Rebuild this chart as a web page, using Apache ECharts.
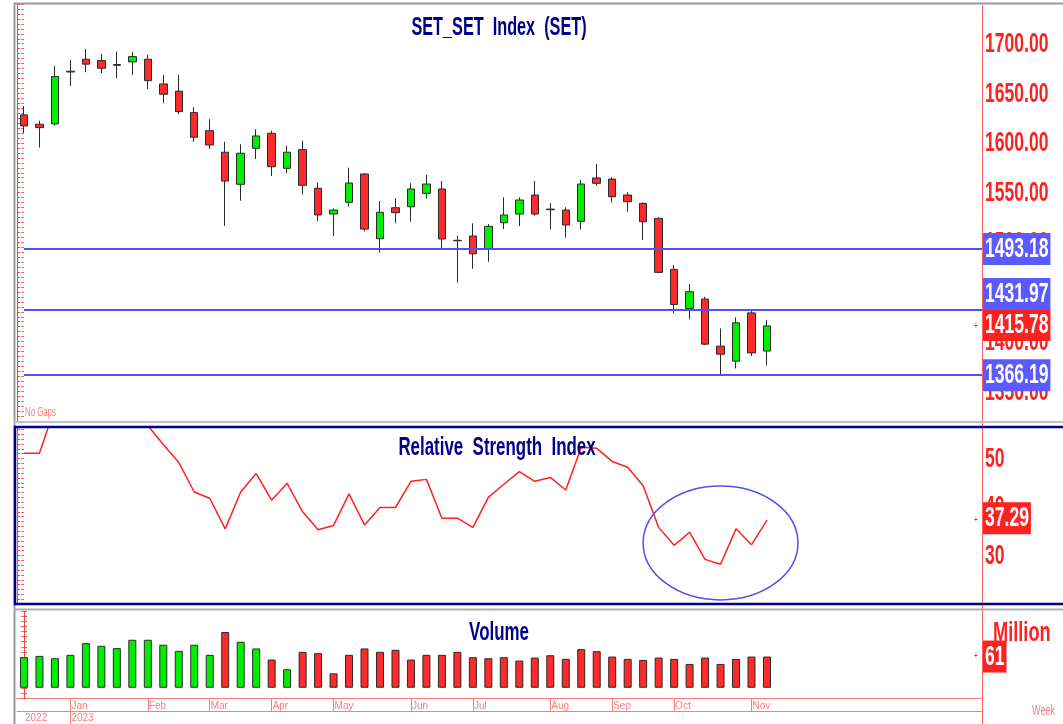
<!DOCTYPE html>
<html>
<head>
<meta charset="utf-8">
<script src="https://cdn.jsdelivr.net/npm/echarts@6.0.0/dist/echarts.min.js"></script>
<style>
  html, body { margin: 0; padding: 0; background: #fff; }
  #main { width: 1063px; height: 724px; }
</style>
</head>
<body>
<div id="main"></div>
<script>
// weekly bars, first bar = week of 12 Dec 2022
const opens  = [1628.3,1618.9,1619.2,1672.3,1684.4,1683.0,1678.2,1681.7,1684.4,1659.5,1652.2,1630.6,1612.4,1590.7,1558.4,1594.7,1609.8,1574.5,1593.3,1554.4,1528.5,1540.3,1568.8,1503.6,1534.8,1535.8,1549.3,1553.7,1502.0,1506.3,1493.2,1519.7,1528.5,1547.6,1532.8,1532.5,1521.1,1564.8,1563.7,1547.6,1539.2,1524.1,1472.7,1433.4,1442.8,1395.4,1380.3,1428.9,1390.4];
const closes = [1617.2,1615.5,1666.9,1671.5,1679.4,1675.3,1679.0,1687.0,1662.8,1649.1,1631.6,1605.8,1598.0,1561.7,1589.7,1607.1,1576.1,1590.7,1557.4,1527.5,1532.5,1559.7,1513.3,1530.2,1529.8,1553.7,1558.7,1503.3,1501.5,1488.4,1516.1,1527.5,1542.6,1528.5,1533.4,1517.4,1558.7,1559.4,1545.9,1540.9,1520.7,1469.7,1437.4,1450.2,1397.4,1387.3,1418.9,1388.6,1415.78];
const lows   = [1610.1,1595.3,1617.5,1657.5,1671.3,1670.3,1665.3,1668.6,1654.2,1640.1,1629.0,1601.3,1594.0,1516.7,1541.9,1583.9,1566.8,1569.5,1548.3,1521.7,1506.3,1535.8,1511.0,1489.5,1519.1,1520.7,1543.9,1492.9,1459.2,1473.3,1480.4,1513.3,1516.4,1526.7,1513.0,1504.6,1513.0,1557.0,1540.3,1530.8,1502.3,1469.0,1428.4,1422.3,1396.4,1366.2,1372.9,1385.6,1376.2];
const highs  = [1637.3,1622.5,1677.6,1683.7,1694.8,1689.8,1692.1,1691.5,1688.8,1668.6,1668.6,1636.0,1623.9,1601.3,1598.7,1613.8,1612.4,1597.3,1602.3,1560.0,1534.2,1575.1,1569.5,1541.6,1544.3,1559.4,1567.8,1561.7,1506.6,1519.1,1518.4,1545.3,1545.3,1561.7,1539.3,1535.2,1562.7,1578.9,1565.5,1550.3,1540.0,1525.0,1477.1,1457.9,1445.1,1413.2,1424.3,1432.0,1421.6];

const rsi = [51.1,51.1,60.5,63.5,66,64,64,66,56.8,52.9,49.2,43.1,41.8,35.5,43.1,46.9,41.4,44.9,39.0,35.3,36.2,42.7,36.3,39.9,39.9,45.3,45.7,37.7,37.7,35.8,42.0,44.7,47.3,45.3,46.1,43.5,52.3,52.1,49.4,48.2,44.4,35.8,32.1,34.8,29.2,28.2,35.5,32.2,37.29];

const volume = [59.7,62.3,57.7,64.3,87.2,82.0,77.4,93.8,93.8,84.0,72.2,84.0,64.3,108.9,89.9,76.8,55.1,36.1,70.2,67.6,28.2,64.3,76.8,70.2,74.1,55.1,64.3,64.3,70.2,59.7,57.7,59.7,53.1,59.0,63.6,56.4,75.4,71.5,61.0,56.4,54.4,59.0,56.4,46.6,59.0,46.6,56.4,61.0,61];
const volUp  = [1,1,1,1,1,1,1,1,1,1,1,1,1,0,1,1,0,1,0,0,0,0,0,0,0,0,0,0,0,0,0,0,0,0,0,0,0,0,0,0,0,0,0,0,0,0,0,0,0];

const levels = [1493.18, 1431.97, 1366.19];
const priceTicks = [1350, 1400, 1450, 1500, 1550, 1600, 1650, 1700];
const rsiTicks = [30, 40, 50];
const monthIdx = [3, 8, 12, 16, 20, 25, 29, 34, 38, 42, 47];
const monthLbl = ['Jan', 'Feb', 'Mar', 'Apr', 'May', 'Jun', 'Jul', 'Aug', 'Sep', 'Oct', 'Nov'];
const yearIdx = [0, 3];
const yearLbl = ['2022', '2023'];

const BASE = "'Liberation Sans', Arial, sans-serif";
const SX = 0.65;               // the original screenshot is squeezed sideways
const RED = '#ff2020';
const PINK = '#ff7a7a';
const NAVY = '#00008c';
const BLUEBOX = '#5a5aff';
const XMIN = -0.45, XMAX = 61.89;

const chart = echarts.init(document.getElementById('main'));

const candles = opens.map((o, i) => [i, o, closes[i], lows[i], highs[i]]);
const lastClose = closes[closes.length - 1];
const lastRsi = rsi[rsi.length - 1];
const lastVol = volume[volume.length - 1];

const hideX = gi => ({ type: 'value', gridIndex: gi, min: XMIN, max: XMAX, show: false });

function yPair(gi, min, max, interval) {
  return [
    {
      type: 'value', gridIndex: gi, position: 'right', min: min, max: max, interval: interval,
      axisLine: { show: false },
      axisTick: { show: true, inside: true, length: 3, lineStyle: { color: '#ff6060' } },
      axisLabel: { show: false },
      splitLine: { show: false }
    },
    {
      type: 'value', gridIndex: gi, position: 'left', min: min, max: max, interval: interval,
      axisLine: { show: true, lineStyle: { color: '#ff4040', width: 1 } },
      axisTick: { show: true, inside: true, length: 3, lineStyle: { color: '#ff4040' } },
      axisLabel: { show: false },
      splitLine: { show: false }
    }
  ];
}

const option = {
  backgroundColor: '#fff',
  animation: false,
  grid: [
    { left: 17, right: 81, top: 4, height: 417, outerBoundsMode: 'none' },
    { left: 17, right: 81, top: 427, height: 177, outerBoundsMode: 'none' },
    { left: 17, right: 81, top: 611, height: 87, outerBoundsMode: 'none' }
  ],
  xAxis: [
    hideX(0),
    hideX(1),
    {
      type: 'value', gridIndex: 2, position: 'bottom', min: XMIN, max: XMAX,
      axisLine: { show: true, onZero: false, lineStyle: { color: PINK } },
      axisTick: { show: true, customValues: monthIdx, length: 13, lineStyle: { color: PINK } },
      axisLabel: {
        show: true, customValues: monthIdx, align: 'left', margin: 3, padding: [0, 0, 0, 1],
        formatter: v => monthLbl[monthIdx.indexOf(Math.round(v))] || '',
        color: PINK, fontFamily: BASE, fontSize: 10
      },
      splitLine: { show: false }
    },
    {
      type: 'value', gridIndex: 2, position: 'bottom', min: XMIN, max: XMAX, offset: 13,
      axisLine: { show: true, onZero: false, lineStyle: { color: PINK } },
      axisTick: { show: true, customValues: [yearIdx[1]], length: 14, lineStyle: { color: PINK } },
      axisLabel: {
        show: true, customValues: yearIdx, align: 'left', margin: 2, padding: [0, 0, 0, 1],
        formatter: v => yearLbl[yearIdx.indexOf(Math.round(v))] || '',
        color: PINK, fontFamily: BASE, fontSize: 10
      },
      splitLine: { show: false }
    }
  ],
  yAxis: [
    ...yPair(0, 1320, 1740, 5),
    ...yPair(1, 20, 56.5, 1),
    ...yPair(2, -20, 150, 10)
  ],
  series: [
    {
      name: 'SET', type: 'candlestick', xAxisIndex: 0, yAxisIndex: 0,
      dimensions: ['x', 'open', 'close', 'lowest', 'highest'],
      encode: { x: 'x', y: ['open', 'close', 'lowest', 'highest'] },
      data: candles,
      barWidth: 8,
      clip: false,
      itemStyle: {
        color: '#00ee00', color0: '#ff2a2a',
        borderColor: '#2a2a2a', borderColor0: '#2a2a2a', borderWidth: 1
      },
      markLine: {
        silent: true, symbol: ['none', 'none'], label: { show: false },
        lineStyle: { color: '#5050ff', width: 2, type: 'solid' },
        data: levels.map(v => [{ coord: [0, v] }, { coord: [XMAX, v] }])
      }
    },
    {
      name: 'Relative Strength Index', type: 'line', xAxisIndex: 1, yAxisIndex: 2,
      data: rsi.map((v, i) => [i, v]),
      showSymbol: false, symbol: 'none',
      lineStyle: { color: RED, width: 1.5 }
    },
    {
      name: 'Volume', type: 'bar', xAxisIndex: 2, yAxisIndex: 4,
      barWidth: 8,
      data: volume.map((v, i) => ({
        value: [i, v],
        itemStyle: { color: volUp[i] ? '#00ee00' : '#ff2a2a' }
      })),
      itemStyle: { borderColor: '#2a2a2a', borderWidth: 1 }
    }
  ]
};

chart.setOption(option);

// ---- texts and value boxes, placed through the axes
const mctx = document.createElement('canvas').getContext('2d');
function textW(text, size, bold) {
  mctx.font = (bold ? 'bold ' : '') + size + 'px ' + BASE;
  return mctx.measureText(text).width * SX;
}
function txt(x, y, text, size, fill, align, bold, z) {
  return {
    type: 'text', x: x, y: y, scaleX: SX, z: z || 70,
    style: {
      text: text, fill: fill, align: align || 'left', verticalAlign: 'middle',
      font: (bold === false ? '' : 'bold ') + size + 'px ' + BASE
    }
  };
}
function box(top, text, bg) {
  const w = textW(text, 27, true) + 4;
  return [
    { type: 'rect', shape: { x: 983, y: top, width: w, height: 32 }, style: { fill: bg }, z: 80 },
    txt(985, top + 16.5, text, 27, '#fff', 'left', true, 81)
  ];
}
const py = v => chart.convertToPixel({ yAxisIndex: 0 }, v);
const ry = v => chart.convertToPixel({ yAxisIndex: 2 }, v);
const vy = v => chart.convertToPixel({ yAxisIndex: 4 }, v);

const els = [
  // frames
  { type: 'line', shape: { x1: 14, y1: 3.5, x2: 1063, y2: 3.5 }, style: { stroke: '#9a9a9a', lineWidth: 2 }, z: 50 },
  { type: 'line', shape: { x1: 14.5, y1: 3, x2: 14.5, y2: 724 }, style: { stroke: '#9a9a9a', lineWidth: 2 }, z: 50 },
  { type: 'line', shape: { x1: 14, y1: 422, x2: 1063, y2: 422 }, style: { stroke: '#c0c0c0', lineWidth: 2 }, z: 50 },
  { type: 'line', shape: { x1: 14, y1: 609.5, x2: 1063, y2: 609.5 }, style: { stroke: '#b0b0b0', lineWidth: 2 }, z: 50 },
  { type: 'rect', shape: { x: 15, y: 427, width: 1060, height: 177 }, style: { fill: 'none', stroke: NAVY, lineWidth: 2.5 }, z: 50 },
  { type: 'line', shape: { x1: 982.5, y1: 5, x2: 982.5, y2: 724 }, style: { stroke: '#ff6060', lineWidth: 1 }, z: 40 },
  // pane titles
  txt(499, 28, 'SET_SET  Index  (SET)', 25, NAVY, 'center'),
  txt(497, 448, 'Relative  Strength  Index', 26, NAVY, 'center'),
  txt(499, 633, 'Volume', 26, NAVY, 'center'),
  txt(993, 633, 'Million', 28, RED, 'left'),
  txt(25, 413, 'No Gaps', 12, PINK, 'left', false),
  txt(1032, 711, 'Week', 14, PINK, 'left', false)
];

// right axis labels
priceTicks.forEach(v => els.push(txt(985, py(v) + 1, v.toFixed(2), 27, RED)));
rsiTicks.forEach(v => els.push(txt(985, ry(v) + 1, String(v), 27, RED)));

// value boxes
const curTop = py(lastClose) - 17;
els.push(...box(curTop, lastClose.toFixed(2), RED));
levels.forEach(v => {
  let top = py(v) - 16;
  if (top < curTop + 32 && top + 32 > curTop) top = v > lastClose ? curTop - 31 : curTop + 31;
  els.push(...box(top, v.toFixed(2), BLUEBOX));
});
els.push(...box(ry(lastRsi) - 18, lastRsi.toFixed(2), RED));
els.push(...box(vy(lastVol) - 16, String(lastVol), RED));

// small "+" markers left of the right axis
[py(lastClose), ry(lastRsi), vy(lastVol)].forEach(y => els.push(txt(976, y, '+', 10, RED, 'center', false)));

// circle around the recent RSI swing
const ellCenter = [45, 32.6];
const c = chart.convertToPixel({ xAxisIndex: 1, yAxisIndex: 2 }, ellCenter);
const e = chart.convertToPixel({ xAxisIndex: 1, yAxisIndex: 2 }, [ellCenter[0] + 5, ellCenter[1] + 11.75]);
els.push({
  type: 'ellipse',
  shape: { cx: c[0], cy: c[1], rx: Math.abs(e[0] - c[0]), ry: Math.abs(c[1] - e[1]) },
  style: { fill: 'none', stroke: '#5050f0', lineWidth: 1.5 }, z: 60
});

chart.setOption({ graphic: { elements: els } });
</script>
</body>
</html>
